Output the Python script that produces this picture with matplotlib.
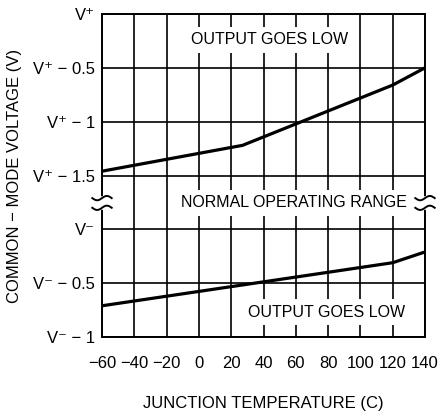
import numpy as np
import matplotlib
matplotlib.use('Agg')
import matplotlib.pyplot as plt

plt.rcParams['font.family'] = ['Liberation Sans Narrow', 'Liberation Sans', 'DejaVu Sans']

# junction temperature (C) vs common-mode voltage limit
temp_ticks = [-60, -40, -20, 0, 20, 40, 60, 80, 100, 120, 140]
temp_labels = ['−60', '−40', '−20', '0', '20', '40', '60', '80', '100', '120', '140']

# upper limit, volts relative to V+
temp_upper = [-60, 27, 120, 140]
volt_upper = [-1.46, -1.22, -0.66, -0.5]

# lower limit, volts relative to V-
temp_lower = [-60, 120, 140]
volt_lower = [-0.71, -0.31, -0.21]

y_ticks = [0, 1, 2, 3, 4, 5, 6]
y_labels = ['V⁻ − 1', 'V⁻ − 0.5', 'V⁻', 'V⁺ − 1.5', 'V⁺ − 1', 'V⁺ − 0.5', 'V⁺']

fig = plt.figure(figsize=(4.43, 4.16), dpi=100)
ax = fig.add_axes([102/443, 1-337/416, 323/443, 323/416])

ax.set_xlim(-60, 140)
ax.set_ylim(0, 6)
ax.set_xticks(temp_ticks)
ax.set_xticklabels(temp_labels, fontsize=12)
ax.set_yticks(y_ticks)
ax.set_yticklabels(y_labels, fontsize=12)
ax.tick_params(length=0)
ax.tick_params(axis='x', pad=14)
ax.tick_params(axis='y', pad=5)
ax.grid(True, color='black', linewidth=1.2)
ax.set_axisbelow(True)
for s in ax.spines.values():
    s.set_linewidth(1.4)

ax.plot(temp_upper, 6 + 2*np.array(volt_upper), color='black', lw=2.3, zorder=3)
ax.plot(temp_lower, 2 + 2*np.array(volt_lower), color='black', lw=2.3, zorder=3)

box = dict(facecolor='white', edgecolor='none', pad=4)
ax.text(44, 5.52, 'OUTPUT GOES LOW', ha='center', va='center', fontsize=11.5, bbox=box, zorder=4)
ax.text(79, 0.46, 'OUTPUT GOES LOW', ha='center', va='center', fontsize=11.5, bbox=box, zorder=4)
ax.text(59, 2.49, 'NORMAL OPERATING RANGE', ha='center', va='center', fontsize=11.5, bbox=box, zorder=4)

# axis break marks on both sides
for xe in (-60, 140):
    ax.plot([xe, xe], [2.41, 2.57], color='white', lw=4, clip_on=False, zorder=5)
    for yc in (2.58, 2.40):
        t = np.linspace(-1, 1, 30)
        ax.plot(xe + 6*t, yc + 0.04*np.sin(np.pi*t), color='black', lw=1.4,
                clip_on=False, zorder=6)

ax.set_xlabel('JUNCTION TEMPERATURE (C)', fontsize=12, labelpad=18)
ax.set_ylabel('COMMON − MODE VOLTAGE (V)', fontsize=12, labelpad=8)

fig.savefig('out.png', dpi=100)
